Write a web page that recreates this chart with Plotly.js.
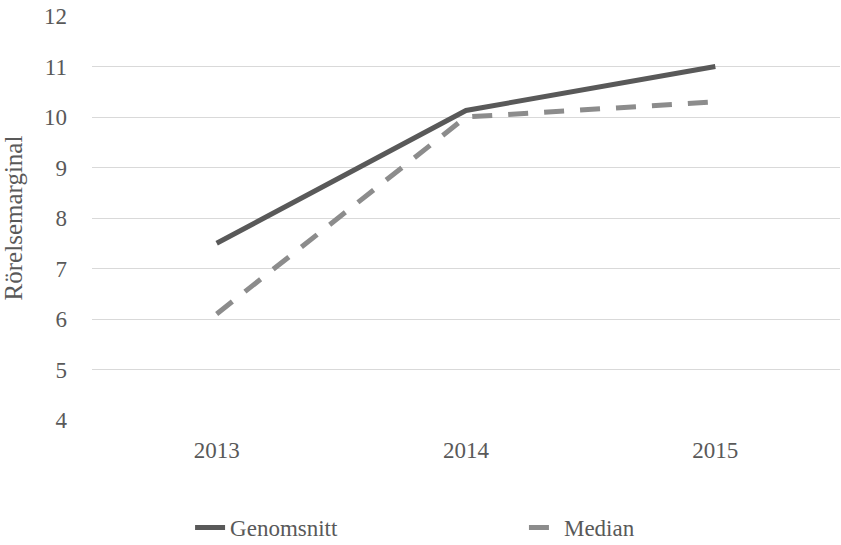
<!DOCTYPE html>
<html>
<head>
<meta charset="utf-8">
<script src="https://cdn.plot.ly/plotly-3.0.1.min.js"></script>
<style>html,body{margin:0;padding:0;background:#fff;}#chart{width:841px;height:545px;}</style>
</head>
<body>
<div id="chart"></div>
<script>
var years = ['2013', '2014', '2015'];
var genomsnitt = [7.5, 10.13, 11.0];
var median = [6.1, 10.0, 10.3];
var yTicks = [4, 5, 6, 7, 8, 9, 10, 11, 12];

var FONT = 'Liberation Serif, serif';
var GREY = '#595959';

var traces = [
  {x: years, y: genomsnitt, name: 'Genomsnitt', type: 'scatter', mode: 'lines',
   line: {color: '#595959', width: 5}, legend: 'legend'},
  {x: years, y: median, name: 'Median', type: 'scatter', mode: 'lines',
   line: {color: '#8c8c8c', width: 5, dash: '20px,16px'}, legend: 'legend2'}
];

var legendBase = {orientation: 'h', xref: 'container', yref: 'container', xanchor: 'left',
                  yanchor: 'middle', y: 0.032, bgcolor: 'rgba(0,0,0,0)',
                  font: {family: FONT, size: 23, color: GREY}};

var layout = {
  width: 841, height: 545,
  margin: {l: 92, r: 1, t: 16, b: 125},
  paper_bgcolor: '#ffffff', plot_bgcolor: '#ffffff',
  font: {family: FONT, size: 23, color: GREY},
  showlegend: true,
  legend: Object.assign({}, legendBase, {x: 0.226}),
  legend2: Object.assign({}, legendBase, {x: 0.623}),
  xaxis: {type: 'category', range: [-0.5, 2.5], showgrid: false, zeroline: false,
          showline: false, ticks: '', ticklabelstandoff: 14,
          tickfont: {family: FONT, size: 23, color: GREY}},
  yaxis: {range: [4, 12], tickvals: yTicks, showgrid: true, gridcolor: '#d9d9d9', gridwidth: 1.3,
          zeroline: false, showline: false, ticks: '', ticklabelstandoff: 24,
          tickfont: {family: FONT, size: 23, color: GREY},
          title: {text: 'Rörelsemarginal', standoff: 14, font: {family: FONT, size: 25, color: GREY}}}
};

Plotly.newPlot('chart', traces, layout, {displayModeBar: false});
</script>
</body>
</html>
